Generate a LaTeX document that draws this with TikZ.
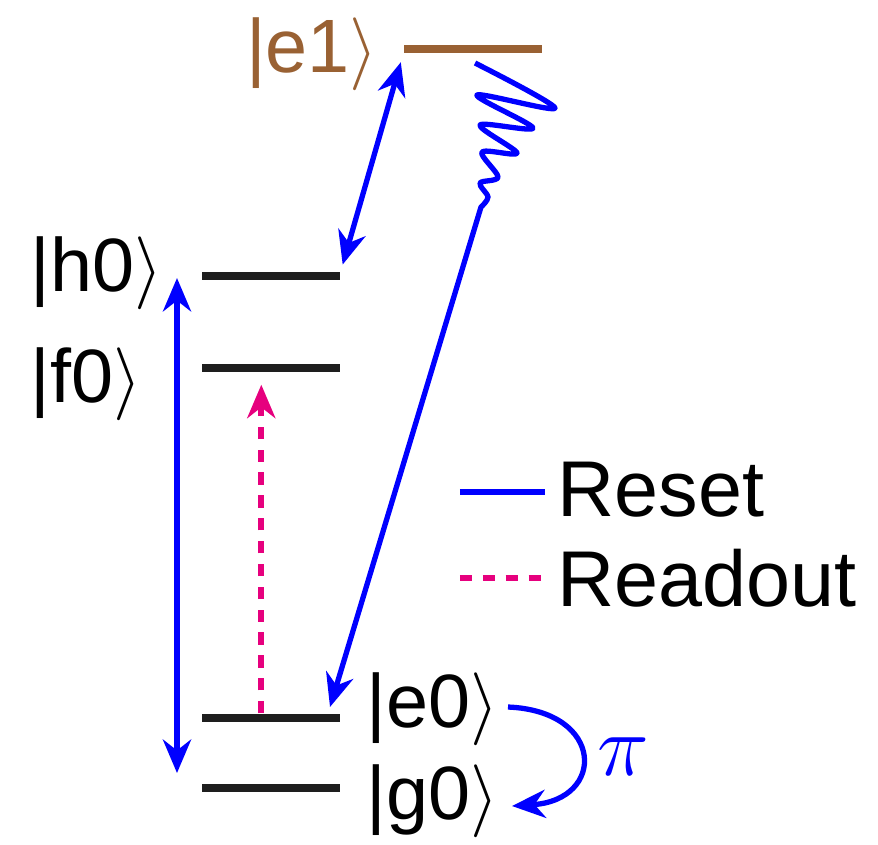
\documentclass[tikz,border=0pt]{standalone}
\usepackage{fontspec}
\setmainfont{Liberation Sans}
\usepackage{tikz}
\usetikzlibrary{calc}
\usetikzlibrary{positioning}
\usetikzlibrary{arrows.meta}

\definecolor{lvlbrown}{RGB}{153,97,51}
\definecolor{readmag}{RGB}{230,0,126}
\definecolor{lvlblack}{RGB}{30,30,30}

\tikzset{
	lvl/.style={rectangle, fill=lvlblack, inner sep=0pt, minimum width=1.38cm, minimum height=0.08cm},
	ket/.style={inner sep=0pt, font=\fontsize{21.5}{26}\selectfont},
	legendtext/.style={inner sep=0pt, anchor=west, font=\fontsize{22.5}{26}\selectfont},
	resetarrow/.style={blue, line width=1.5pt},
	readoutarrow/.style={readmag, line width=1.6pt, dash pattern=on 3.5pt off 3pt},
	tip/.style={-{Stealth[length=9.5pt, width=8pt]}},
	twotip/.style={{Stealth[length=9.5pt, width=8pt]}-{Stealth[length=9.5pt, width=8pt]}}
}

\begin{document}
\begin{tikzpicture}[x=0.01cm, y=-0.01cm]
			\useasboundingbox (0,0) rectangle (878,844);
			
			% Levels
			\node[lvl, fill=lvlbrown] (e1) at (473,49) {};
			\node[lvl] (h0) at (271,276) {};
			\node[lvl] (f0) at (271,368) {};
			\node[lvl] (e0) at (271,718) {};
			\node[lvl] (g0) at (271,788) {};
			
			% Kets
			\node[ket, text=lvlbrown, anchor=east] (e1ket) at (379,54) {\textbar e1$\rangle$};
			\node[ket, anchor=west] (h0ket) at (30,273) {\textbar h0$\rangle$};
			\node[ket, anchor=west] (f0ket) at (30,384) {\textbar f0$\rangle$};
			\node[ket, anchor=west] (e0ket) at (366,709) {\textbar e0$\rangle$};
			\node[ket, anchor=west] (g0ket) at (366,801) {\textbar g0$\rangle$};
			\node[ket, text=blue, font=\fontsize{24}{28}\selectfont] (pi) at (623,757) {$\pi$};
			
			\coordinate (hup) at (177,278);
			\coordinate (gdown) at (177,773);
			\coordinate (wavestart) at (475,63);
			\coordinate (e0tip) at (330,707);
			\coordinate (pistart) at (508,707);
			\coordinate (piend) at (512,806);
			
			% Draw arrows
			\draw[resetarrow, twotip, shorten <=2pt, shorten >=2.5pt] (h0.north east) -- (e1.south west);
			\draw[resetarrow, twotip] (hup) -- (gdown);
			\draw[readoutarrow, tip, shorten >=0.12cm] ([xshift=0.6cm]e0.north west) -- ([xshift=0.6cm]f0.south west);
			\draw[resetarrow, tip, line join=round] (wavestart)
				plot[smooth, tension=0.55] coordinates {(475,63) (555,108) (477,95) (533,128) (480,125) (517,153) (482,152) (498,177) (480,183) (488,197) (481,207)}
				-- (e0tip);
			\draw[resetarrow, tip] (pistart) .. controls (605,711) and (606,800) .. (piend);
			
			% Legend
			\node[legendtext] (resettxt) at (557,490) {Reset};
			\node[legendtext] (readouttxt) at (557,578) {Readout};
			\draw[resetarrow] ([xshift=-0.97cm, yshift=-0.02cm]resettxt.west) -- ([xshift=-0.12cm, yshift=-0.02cm]resettxt.west);
			\draw[readoutarrow] ([xshift=-0.97cm]readouttxt.west) -- ([xshift=-0.12cm]readouttxt.west);
		\end{tikzpicture}
\end{document}
